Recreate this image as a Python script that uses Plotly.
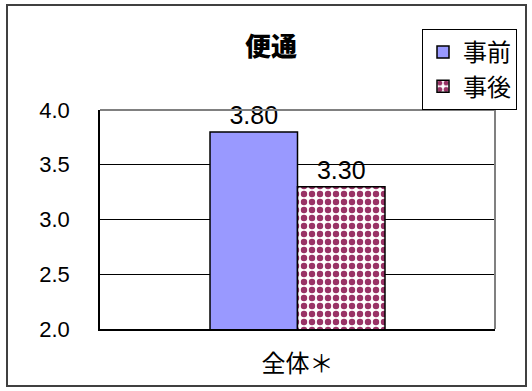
import plotly.graph_objects as go

categories = ["全体＊"]
series_names = ["事前", "事後"]
before_vals = [3.80]
after_vals = [3.30]
y_ticks = [2.0, 2.5, 3.0, 3.5, 4.0]
y_tick_text = ["2.0", "2.5", "3.0", "3.5", "4.0"]

W, H = 532, 391
ML, MR, MT, MB = 100, 37, 110, 62
PW, PH = W - ML - MR, H - MT - MB

def px_x(x):
    return (x - ML) / PW

def px_y(y):
    return (H - MB - y) / PH

jp = "Noto Sans CJK JP"
num = "Liberation Sans, Arial"

fig = go.Figure()
fig.add_trace(go.Bar(
    x=categories, y=before_vals, name=series_names[0],
    marker=dict(color="#9999FF", line=dict(color="black", width=1.5)),
    text=[f"{v:.2f}" for v in before_vals], textposition="outside",
    textfont=dict(family=num, size=25, color="black"), cliponaxis=False,
))
fig.add_trace(go.Bar(
    x=categories, y=after_vals, name=series_names[1],
    marker=dict(color="white", line=dict(color="black", width=1.5),
                pattern=dict(shape=".", fgcolor="#993366", bgcolor="white",
                             size=8, solidity=0.5, fillmode="replace")),
    text=[f"{v:.2f}" for v in after_vals], textposition="outside",
    textfont=dict(family=num, size=25, color="black"), cliponaxis=False,
))

fig.update_layout(
    width=W, height=H,
    margin=dict(l=ML, r=MR, t=MT, b=MB),
    paper_bgcolor="white", plot_bgcolor="white",
    barmode="group", bargap=0.557, bargroupgap=0,
    title=dict(text="便通", font=dict(family=jp, size=26, color="black", weight=900),
               x=271 / W, xanchor="center", y=1 - 47 / H, yanchor="middle",
               xref="container", yref="container"),
    showlegend=True,
    legend=dict(x=px_x(422), y=px_y(29), xanchor="left", yanchor="top",
                bgcolor="white", bordercolor="black", borderwidth=1,
                font=dict(family=jp, size=24, color="black"),
                itemwidth=30),
    yaxis=dict(range=[2, 4], tickvals=y_ticks, ticktext=y_tick_text,
               showgrid=True, gridcolor="black", gridwidth=1,
               showline=True, linecolor="black", linewidth=1.5,
               ticks="", ticklabelstandoff=24,
               tickfont=dict(family=num, size=22, color="black"),
               zeroline=False),
    xaxis=dict(showline=True, linecolor="black", linewidth=1.5,
               ticks="", ticklabelstandoff=12,
               tickfont=dict(family=jp, size=24, color="black")),
    shapes=[
        dict(type="line", xref="paper", yref="paper", x0=0, x1=1, y0=1, y1=1,
             line=dict(color="#808080", width=2), layer="above"),
        dict(type="line", xref="paper", yref="paper", x0=1, x1=1, y0=0, y1=1,
             line=dict(color="#808080", width=2), layer="above"),
        dict(type="rect", xref="paper", yref="paper",
             x0=px_x(7), x1=px_x(526), y0=px_y(386), y1=px_y(5),
             line=dict(color="#404040", width=2), layer="below"),
    ],
)

fig.write_html("out.html")
